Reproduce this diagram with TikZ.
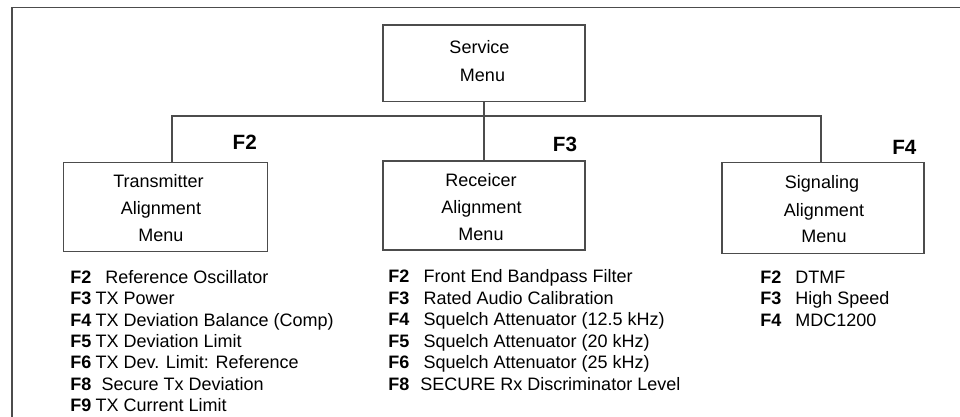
\documentclass[tikz,border=0pt]{standalone}
\usepackage{fontspec}
\setmainfont{Liberation Sans}
\begin{document}
\begin{tikzpicture}[x=0.75pt,y=-0.75pt,
  line/.style={draw=black!70,line width=1pt},
  menubox/.style={line,rectangle,inner sep=0pt,outer sep=0pt},
  boxtext/.style={anchor=base,inner sep=0pt,font=\fontsize{13.5}{16}\selectfont},
  flabel/.style={anchor=center,inner sep=0pt,font=\fontsize{15.5}{18}\selectfont\bfseries},
  item/.style={anchor=base west,inner sep=0pt,font=\fontsize{13.5}{16}\selectfont}]
\useasboundingbox (0,0) rectangle (960,417);
% outer frame
\draw[draw=black!70,line width=1.1pt] (12,420) -- (12,7.5) -- (965,7.5);

% boxes
\node[menubox,minimum width=151.5pt,minimum height=57.5pt] (svc) at (484,63.35) {};
\node[menubox,minimum width=153pt,minimum height=67pt] (tx) at (165.3,207) {};
\node[menubox,minimum width=151.5pt,minimum height=66.75pt] (rx) at (484,205.5) {};
\node[menubox,minimum width=151.5pt,minimum height=68.25pt] (sig) at (823,207.8) {};

% box texts
\node[boxtext] (svc1) at (479.5,53.3) {Service};
\node[boxtext] (svc2) at (482.5,81.7) {Menu};
\node[boxtext] (tx1) at (158.5,187.3) {Transmitter};
\node[boxtext] (tx2) at (161,214.3) {Alignment};
\node[boxtext] (tx3) at (161,241) {Menu};
\node[boxtext] (rx1) at (481,186.5) {Receicer};
\node[boxtext] (rx2) at (481.5,213.5) {Alignment};
\node[boxtext] (rx3) at (481,240.5) {Menu};
\node[boxtext] (sig1) at (822,189) {Signaling};
\node[boxtext] (sig2) at (824,216) {Alignment};
\node[boxtext] (sig3) at (824,242.3) {Menu};

% connectors
\coordinate (bl) at (172,116);
\coordinate (br) at (821,116);
\draw[line] (svc.south) -- (rx.north);
\draw[line] (tx.north -| bl) -- (bl) -- (br) -- (sig.north -| br);

% F labels
\node[flabel] (f2) at (244.8,142.5) {F2};
\node[flabel] (f3) at (565,144) {F3};
\node[flabel] (f4) at (904.3,147) {F4};

% left list
\node[item] (l1) at (70,283.5) {\makebox[26.25pt][l]{\bfseries F2}Reference Oscillator};
\node[item] (l2) at (70,304.9) {\makebox[19pt][l]{\bfseries F3}TX Power};
\node[item] (l3) at (70,326.2) {\makebox[19pt][l]{\bfseries F4}TX Deviation Balance (Comp)};
\node[item] (l4) at (70,347.6) {\makebox[19pt][l]{\bfseries F5}TX Deviation Limit};
\node[item] (l5) at (70,368.9) {\makebox[19pt][l]{\bfseries F6}TX Dev. Limit: Reference};
\node[item] (l6) at (70,390.3) {\makebox[23.5pt][l]{\bfseries F8}Secure Tx Deviation};
\node[item] (l7) at (70,411.6) {\makebox[19pt][l]{\bfseries F9}TX Current Limit};

% middle list
\node[item] (m1) at (388,282.5) {\makebox[26.5pt][l]{\bfseries F2}Front End Bandpass Filter};
\node[item] (m2) at (388,304) {\makebox[26.5pt][l]{\bfseries F3}Rated Audio Calibration};
\node[item] (m3) at (388,325.5) {\makebox[26.5pt][l]{\bfseries F4}Squelch Attenuator (12.5 kHz)};
\node[item] (m4) at (388,347) {\makebox[26.5pt][l]{\bfseries F5}Squelch Attenuator (20 kHz)};
\node[item] (m5) at (388,368.5) {\makebox[26.5pt][l]{\bfseries F6}Squelch Attenuator (25 kHz)};
\node[item] (m6) at (388,390) {\makebox[24pt][l]{\bfseries F8}SECURE Rx Discriminator Level};

% right list
\node[item] (r1) at (760,283.7) {\makebox[26.25pt][l]{\bfseries F2}DTMF};
\node[item] (r2) at (760,304.9) {\makebox[26.25pt][l]{\bfseries F3}High Speed};
\node[item] (r3) at (760,326) {\makebox[26.25pt][l]{\bfseries F4}MDC1200};
\end{tikzpicture}
\end{document}
